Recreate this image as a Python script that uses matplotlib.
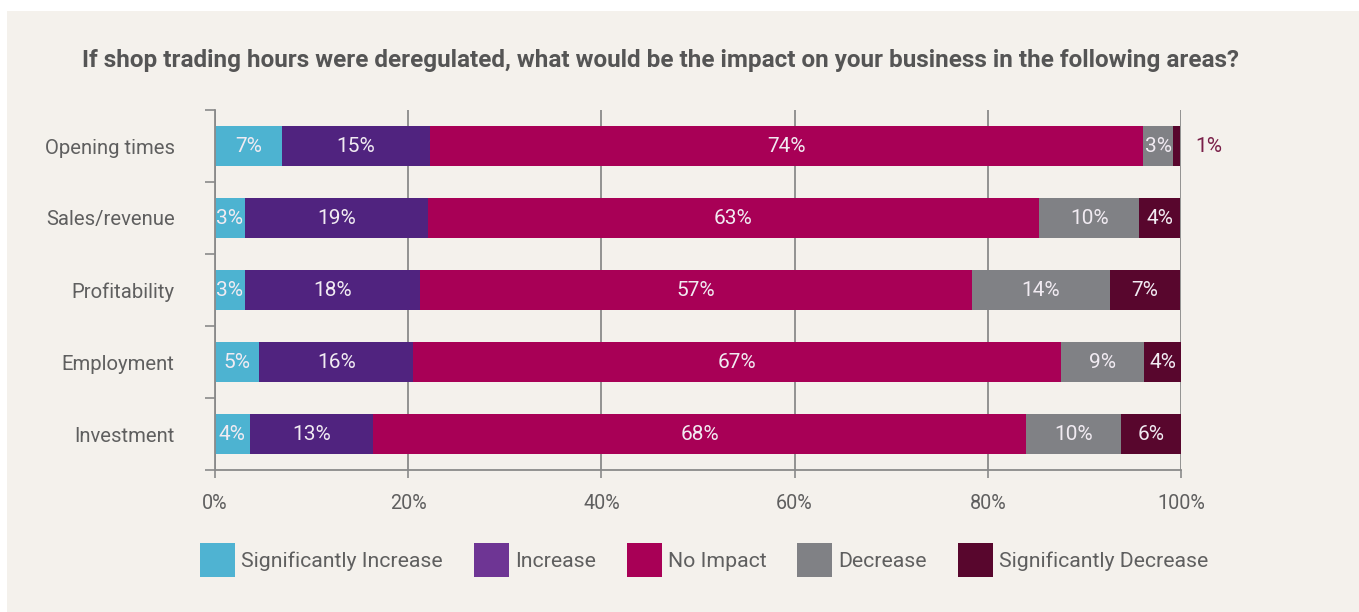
import matplotlib
matplotlib.use("Agg")
import matplotlib.pyplot as plt
from matplotlib.patches import Rectangle, Patch
import numpy as np

categories = ["Opening times", "Sales/revenue", "Profitability", "Employment", "Investment"]
series = ["Significantly Increase", "Increase", "No Impact", "Decrease", "Significantly Decrease"]

sig_increase = [6.9, 3.1, 3.1, 4.6, 3.6]
increase = [15.4, 18.9, 18.1, 15.9, 12.8]
no_impact = [73.8, 63.3, 57.2, 67.1, 67.6]
decrease = [3.1, 10.4, 14.2, 8.6, 9.8]
sig_decrease = [0.7, 4.2, 7.3, 3.9, 6.2]

labels_si = ["7%", "3%", "3%", "5%", "4%"]
labels_inc = ["15%", "19%", "18%", "16%", "13%"]
labels_ni = ["74%", "63%", "57%", "67%", "68%"]
labels_dec = ["3%", "10%", "14%", "9%", "10%"]
labels_sd = ["1%", "4%", "7%", "4%", "6%"]

xticks = [0, 20, 40, 60, 80, 100]
xtick_labels = ["0%", "20%", "40%", "60%", "80%", "100%"]

title = "If shop trading hours were deregulated, what would be the impact on your business in the following areas?"

bar_colors = ["#4db3d1", "#50237f", "#a80056", "#808185", "#58062d"]
legend_colors = ["#4fb3d2", "#6e3594", "#a80056", "#808185", "#58062d"]

FONT = "Roboto"
plt.rcParams["font.family"] = [FONT, "DejaVu Sans"]

W, H = 1359, 612
fig = plt.figure(figsize=(W / 100, H / 100), dpi=100, facecolor="white")
bg = "#f4f1ec"
fig.patches.append(Rectangle((7 / W, 0), 1 - 7 / W, 1 - 11 / H, transform=fig.transFigure,
                             facecolor=bg, edgecolor="none", zorder=-10))

ax = fig.add_axes([215 / W, (H - 470) / H, (1181 - 215) / W, 360 / H])
ax.set_facecolor("none")
ax.set_zorder(2)

values = [sig_increase, increase, no_impact, decrease, sig_decrease]
labels = [labels_si, labels_inc, labels_ni, labels_dec, labels_sd]
y = np.arange(len(categories))
left = np.zeros(len(categories))
bar_h = 40 / 72
for s, (vals, labs, col) in enumerate(zip(values, labels, bar_colors)):
    vals = np.array(vals)
    ax.barh(y, vals, left=left, height=bar_h, color=col, edgecolor="none", zorder=3)
    for i, (v, lab) in enumerate(zip(vals, labs)):
        if v >= 2:
            ax.text(left[i] + v / 2, y[i], lab, ha="center", va="center",
                    color="#f1ebf2", fontsize=15, zorder=4)
        else:
            ax.text(left[i] + v + 1.6, y[i], lab, ha="left", va="center",
                    color="#7a2049", fontsize=15, zorder=4, clip_on=False)
    left += vals

ax.set_xlim(0, 100)
ax.set_ylim(len(categories) - 0.5, -0.5)

axis_col = "#8a8a8a"
for sp in ["top", "right"]:
    ax.spines[sp].set_visible(False)
for sp in ["left", "bottom"]:
    ax.spines[sp].set_color(axis_col)
    ax.spines[sp].set_linewidth(1.3)
    ax.spines[sp].set_zorder(5)

ax.set_xticks(xticks)
ax.set_xticklabels(xtick_labels, fontsize=14.2, color="#5f5f5f")
ax.tick_params(axis="x", direction="out", length=6, width=1.2, color=axis_col, pad=11)
ax.grid(axis="x", color=axis_col, linewidth=1.3, zorder=1)
ax.set_axisbelow(True)

ax.set_yticks(y)
ax.set_yticklabels(categories, fontsize=14.6, color="#5f5f5f")
ax.tick_params(axis="y", which="major", length=0, pad=29)
ax.set_yticks(np.arange(-0.5, len(categories)), minor=True)
ax.tick_params(axis="y", which="minor", direction="out", length=7.5, width=1.2, color=axis_col)

fig.text(82 / W, 1 - 60 / H, title, ha="left", va="center", fontsize=17.5,
         fontweight="bold", color="#555555")

handles = [Patch(facecolor=c, edgecolor="none") for c in legend_colors]
fs_leg = 15.3
leg = fig.legend(handles, series, loc="center left", bbox_to_anchor=(200 / W, 1 - 560 / H),
                 ncol=5, frameon=False, fontsize=fs_leg, handlelength=1.65, handleheight=2.05,
                 handletextpad=0.3, columnspacing=1.44, borderpad=0, borderaxespad=0)
for t in leg.get_texts():
    t.set_color("#5f5f5f")

fig.savefig("out.png", dpi=100, facecolor="white")
